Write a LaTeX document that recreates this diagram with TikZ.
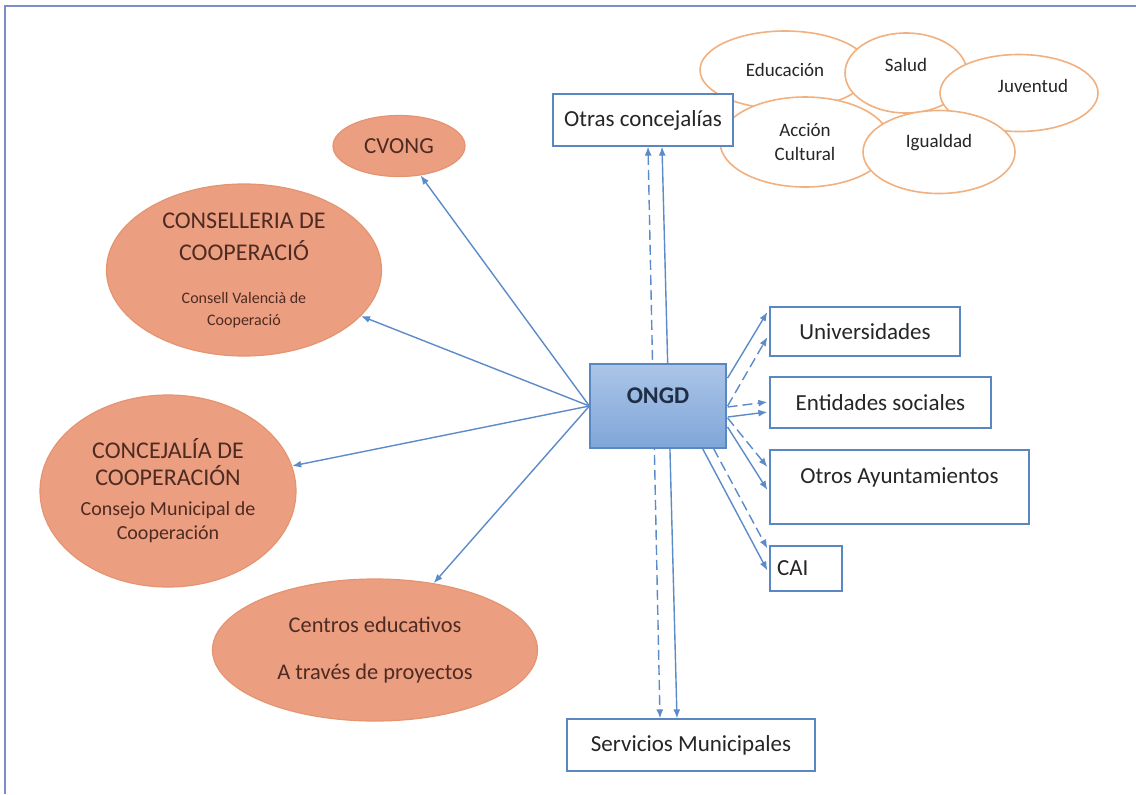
\documentclass[tikz,border=0pt]{standalone}
\usepackage{fontspec}
\setmainfont{Carlito}
\usetikzlibrary{shapes.geometric,calc,arrows.meta}
\definecolor{arrblue}{HTML}{5B8BC8}
\definecolor{boxblue}{HTML}{5A86C2}
\definecolor{salmon}{HTML}{EC9E81}
\definecolor{salmonline}{HTML}{E59470}
\definecolor{lightorange}{HTML}{F1B07F}
\definecolor{browntext}{HTML}{4E2B22}
\definecolor{graytext}{HTML}{262626}
\definecolor{framecol}{HTML}{7D8DC9}
\definecolor{ongdtop}{HTML}{ABC5E7}
\definecolor{ongdbot}{HTML}{7FA6D9}
\definecolor{ongdtext}{HTML}{1F2D45}
\begin{document}
\begin{tikzpicture}[x=0.5pt, y=-0.5pt,
  box/.style={draw=boxblue, fill=white, line width=0.6pt, inner sep=3.5pt, text=graytext, font=\fontsize{11.5}{14}\selectfont},
  bigell/.style={ellipse, draw=salmonline, fill=salmon, line width=0.6pt, inner sep=0pt, text=browntext, align=center},
  smallell/.style={ellipse, draw=lightorange, fill=white, line width=0.8pt, inner sep=0pt, text=graytext, align=center, font=\fontsize{9.5}{12}\selectfont},
  arr/.style={draw=arrblue, line width=0.7pt, -{Latex[length=4.5pt,width=3.5pt]}},
  dasharr/.style={arr, dash pattern=on 5pt off 2.5pt},
  twoway/.style={{Latex[length=4.5pt,width=3.5pt]}-{Latex[length=4.5pt,width=3.5pt]}}]
\useasboundingbox (0,0) rectangle (1136,794);
\draw[framecol, line width=1pt] (5,794) -- (5,6) -- (1136,6);

% concejalias
\node[smallell, minimum width=85pt, minimum height=39pt] (educ) at (785,70) {Educación};
\node[smallell, minimum width=61pt, minimum height=40pt, text depth=8.5pt] (salud) at (906,73) {Salud};
\node[smallell, minimum width=79pt, minimum height=38.5pt, text depth=7.5pt] (juv) at (1019,93) {\hspace{14pt}Juventud};
\node[smallell, minimum width=85pt, minimum height=45pt] (accion) at (805,142) {Acción\\Cultural};
\node[smallell, minimum width=76pt, minimum height=41.5pt, text depth=11pt] (igual) at (939,152) {Igualdad};

% entidades
\node[bigell, minimum width=66pt, minimum height=30.5pt, font=\fontsize{11.5}{14}\selectfont] (cvong) at (399,146) {CVONG};
\node[bigell, minimum width=137.5pt, minimum height=86pt, font=\fontsize{12}{15}\selectfont] (conselleria) at (244,270)
  {CONSELLERIA DE\\[1pt]COOPERACIÓ\\[6.5pt]{\fontsize{8}{10}\selectfont Consell Valencià de}\\[-4pt]{\fontsize{8}{10}\selectfont Cooperació}};
\node[bigell, minimum width=128pt, minimum height=96pt, font=\fontsize{12}{14}\selectfont] (concejalia) at (168,491)
  {CONCEJALÍA DE\\[-0.5pt]COOPERACIÓN\\[1pt]{\fontsize{10}{12}\selectfont Consejo Municipal de}\\[-2pt]{\fontsize{10}{12}\selectfont Cooperación}};
\node[bigell, minimum width=162.5pt, minimum height=71pt, font=\fontsize{11.2}{15}\selectfont] (centros) at (375,650)
  {Centros educativos\\[8.5pt]A través de proyectos};

% cajas
\node[box, minimum width=90pt, minimum height=26pt] (otras) at (643,120) {Otras concejalías};
\node[box, minimum width=124pt, minimum height=26pt] (serv) at (691,745) {Servicios Municipales};
\node[box, minimum width=95pt, minimum height=24.5pt] (univ) at (865,331.5) {Universidades};
\node[box, minimum width=110.5pt, minimum height=25.5pt] (ent) at (880.5,402.5) {Entidades sociales};
\node[box, minimum width=129.5pt, minimum height=37pt, text depth=11pt] (otros) at (899.5,487) {Otros Ayuntamientos};
\node[box, minimum height=22.5pt, text width=29pt, align=left] (cai) at (806,568.5) {CAI};

\draw[dasharr, twoway] ($(otras.south)+(5,0)$) -- ($(serv.north)+(-31,0)$);
\draw[arr, twoway] ($(otras.south)+(19,0)$) -- ($(serv.north)+(-14,0)$);

\node[draw=boxblue, line width=0.6pt, top color=ongdtop, bottom color=ongdbot, minimum width=68pt, minimum height=42pt,
  text depth=10pt, text=ongdtext, font=\bfseries\fontsize{12}{14}\selectfont] (ongd) at (658,406) {ONGD};

\draw[arr] (ongd.west) -- (cvong);
\draw[arr] (ongd.west) -- (conselleria);
\draw[arr] (ongd.west) -- (concejalia);
\draw[arr] (ongd.west) -- (centros);

\draw[arr] ($(ongd.east)+(1,-28)$) -- ($(univ.west)+(-2,-19.5)$);
\draw[dasharr] ($(ongd.east)+(1,0)$) -- ($(univ.west)+(-2,5.5)$);
\draw[dasharr] ($(ongd.east)+(1,1)$) -- ($(ent.west)+(-2,-0.5)$);
\draw[arr] ($(ongd.east)+(1,11)$) -- ($(ent.west)+(-2,9.5)$);
\draw[dasharr] ($(ongd.east)+(1,12)$) -- ($(otros.west)+(-2,-20)$);
\draw[arr] ($(ongd.east)+(1,21)$) -- ($(otros.west)+(-2,3)$);
\draw[dasharr] ($(ongd.south east)+(-13,0)$) -- ($(cai.west)+(-2,-20)$);
\draw[arr] ($(ongd.south east)+(-24,0)$) -- ($(cai.west)+(-2,2)$);
\end{tikzpicture}
\end{document}
